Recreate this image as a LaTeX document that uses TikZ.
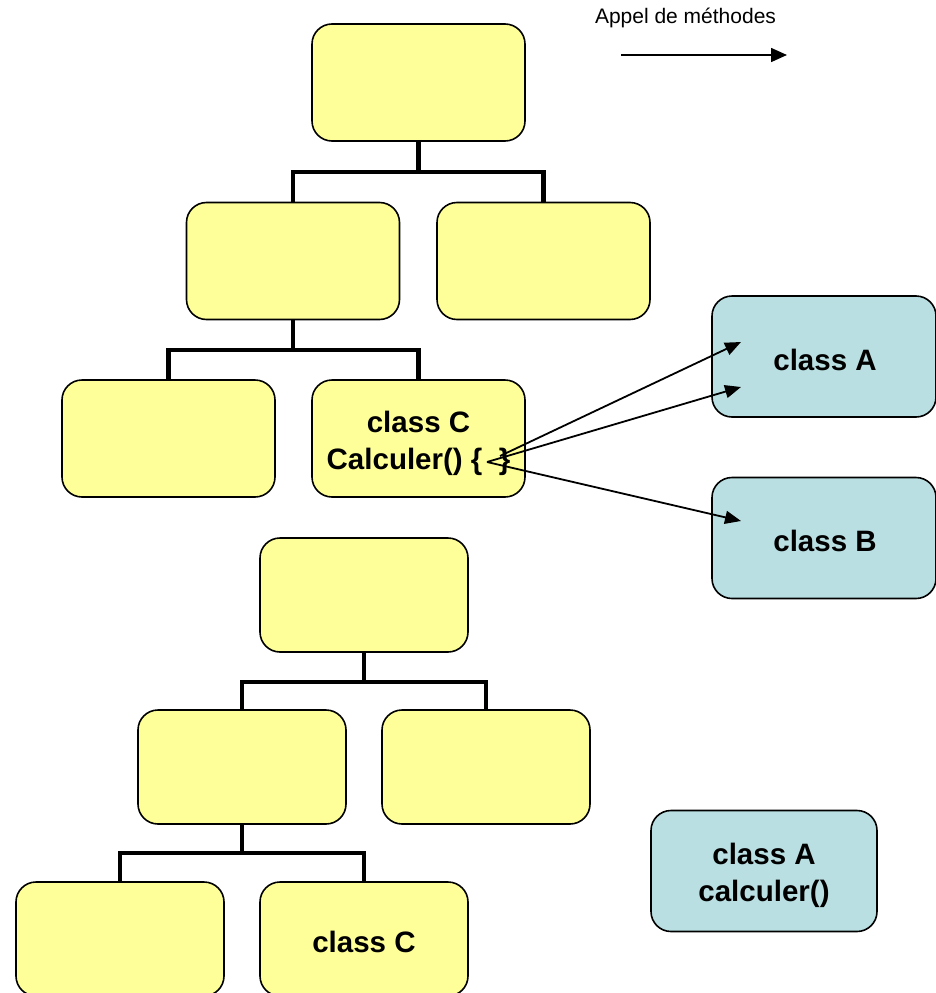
\documentclass[tikz,border=0pt]{standalone}
\usepackage{fontspec}
\setmainfont{Liberation Sans}
\usetikzlibrary{arrows.meta}
\definecolor{boxyellow}{RGB}{255,255,153}
\definecolor{boxblue}{RGB}{185,223,226}
\begin{document}
\begin{tikzpicture}[x=1pt,y=-1pt,
  ybox/.style={draw=black,line width=1.6pt,fill=boxyellow,rounded corners=20pt,
    minimum width=213pt,minimum height=117pt,inner sep=0pt},
  ysmall/.style={ybox,minimum width=208pt,minimum height=114pt},
  bbox/.style={ybox,fill=boxblue,minimum width=224pt,minimum height=121pt},
  lbl/.style={inner sep=0pt,align=center,font=\fontsize{29.5}{37}\selectfont\bfseries},
  tree/.style={line width=4.5pt,draw=black},
  call/.style={line width=1.8pt,-{Triangle[length=16pt,width=13pt]}}
]
\useasboundingbox (0,0) rectangle (936,993);

% legend
\node (leg) at (685.5,18) {\fontsize{21}{24}\selectfont Appel de méthodes};
\coordinate (l1) at (621,55);
\coordinate (l2) at (787,55);
\draw[line width=1.6pt,-{Triangle[length=16pt,width=14pt]}] (l1) -- (l2);

% top tree junctions
\coordinate (j1) at (418.5,172);
\coordinate (j2) at (293,350);
\draw[tree] (418.5,141) -- (j1);
\draw[tree] (j1) -| (293,202);
\draw[tree] (j1) -| (543.5,202);
\draw[tree] (293,320) -- (j2);
\draw[tree] (j2) -| (168.5,380);
\draw[tree] (j2) -| (418.5,380);

% bottom tree junctions
\coordinate (k1) at (364,682);
\coordinate (k2) at (242,853);
\draw[tree] (364,652) -- (k1);
\draw[tree] (k1) -| (242,710);
\draw[tree] (k1) -| (486,710);
\draw[tree] (242,824) -- (k2);
\draw[tree] (k2) -| (120,882);
\draw[tree] (k2) -| (364,882);

% top tree boxes
\node[ybox] (T1) at (418.5,82.5) {};
\node[ybox] (T2) at (293,261) {};
\node[ybox] (T3) at (543.5,261) {};
\node[ybox] (T4) at (168.5,438.5) {};
\node[ybox] (T5) at (418.5,438.5) {};
\node[lbl] (T5t) at (418.5,443) {class C\\Calculer() \{ \ \}};

% blue boxes
\node[bbox] (A) at (824,356.5) {};
\node[lbl] (At) at (825,360) {class A};
\node[bbox] (B) at (824,538) {};
\node[lbl] (Bt) at (825,541) {class B};
\node[bbox,minimum width=226pt] (A2) at (764,871) {};
\node[lbl] (A2t) at (764,875) {class A\\calculer()};

% bottom tree boxes
\node[ysmall] (U1) at (364,595) {};
\node[ysmall] (U2) at (242,767) {};
\node[ysmall] (U3) at (486,767) {};
\node[ysmall] (U4) at (120,939) {};
\node[ysmall] (U5) at (364,939) {};
\node[lbl] (U5t) at (364,942) {class C};

% method calls
\coordinate (s1) at (500,456);
\coordinate (s2) at (487,462);
\coordinate (a1) at (741,342);
\coordinate (a2) at (741,387);
\coordinate (b1) at (741,521);
\draw[call] (s1) -- (a1);
\draw[call] (s2) -- (a2);
\draw[call] (s2) -- (b1);
\end{tikzpicture}
\end{document}
